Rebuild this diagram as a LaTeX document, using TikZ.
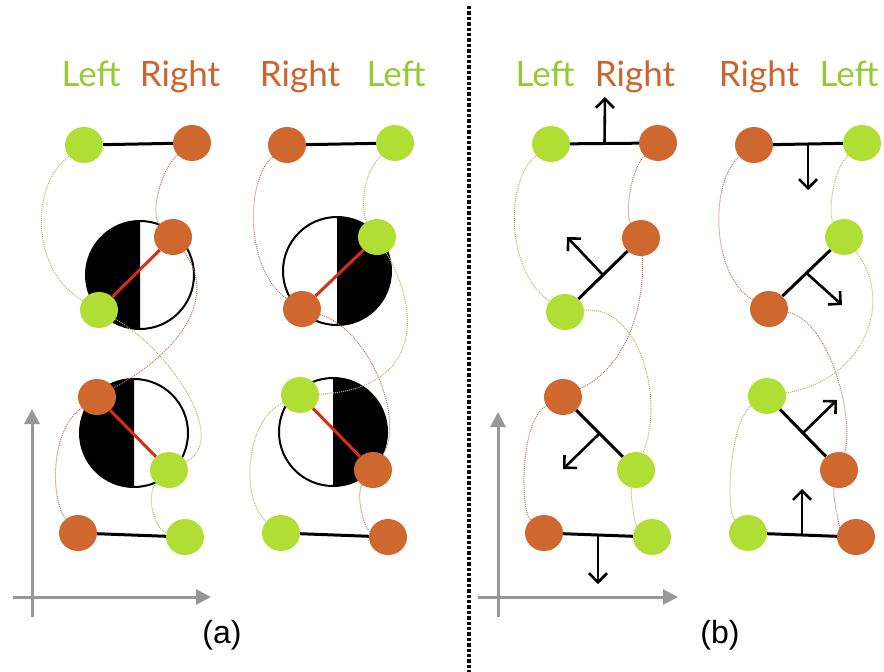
\documentclass[tikz,border=0pt]{standalone}
\usepackage{fontspec}
\newfontfamily\labelfont{Lato}
\newfontfamily\panelfont{Liberation Sans}
\usetikzlibrary{calc,shapes.geometric,arrows.meta}

\definecolor{beadgreen}{RGB}{176,222,52}
\definecolor{beadorange}{RGB}{206,104,46}
\definecolor{textgreen}{RGB}{148,202,50}
\definecolor{textorange}{RGB}{204,100,45}
\definecolor{strandgreen}{RGB}{165,190,95}
\definecolor{strandorange}{RGB}{185,120,95}
\definecolor{bondred}{RGB}{214,44,24}
\definecolor{axisgray}{RGB}{152,152,152}

\tikzset{
	greenbead/.style={ellipse, fill=beadgreen, minimum width=38pt, minimum height=36pt, inner sep=0pt},
	orangebead/.style={ellipse, fill=beadorange, minimum width=38pt, minimum height=36pt, inner sep=0pt},
	greenstrand/.style={strandgreen, line width=1pt, dash pattern=on 1pt off 1pt},
	orangestrand/.style={strandorange, line width=1pt, dash pattern=on 1pt off 1pt},
	bond/.style={line width=3pt},
	redbond/.style={bondred, line width=3pt},
	normal/.style={line width=2.6pt, -{Straight Barb[length=9pt,width=18pt]}},
	axis/.style={axisgray, line width=3pt, -{Triangle[length=15pt,width=15pt]}},
	leftlabel/.style={textgreen, anchor=base, font=\labelfont\fontsize{35}{38}\selectfont},
	rightlabel/.style={textorange, anchor=base, font=\labelfont\fontsize{35}{38}\selectfont},
	panellabel/.style={anchor=base, font=\panelfont\fontsize{32}{35}\selectfont}
}

% disc with one half filled black: centre, start:end angle of the black half
\def\halfdisc(#1)(#2:#3){%
	\fill[black] (#1) ++(#2:54) arc[start angle=#2, end angle=#3, radius=54] -- cycle;
	\draw[line width=2pt] (#1) circle[radius=54];}

\begin{document}
\begin{tikzpicture}[x=1pt, y=-1pt]
			%%%%% START %%%%%
			\useasboundingbox (0,0) rectangle (884,672);
			
			% labels
			\node[leftlabel] (a1left) at (91,86) {Left};
			\node[rightlabel] (a1right) at (180,86) {Right};
			\node[rightlabel] (a2right) at (300,86) {Right};
			\node[leftlabel] (a2left) at (396,86) {Left};
			\node[leftlabel] (b1left) at (545,86) {Left};
			\node[rightlabel] (b1right) at (635,86) {Right};
			\node[rightlabel] (b2right) at (759,86) {Right};
			\node[leftlabel] (b2left) at (849,86) {Left};
			
			\node[panellabel] (alabel) at (222,643) {(a)};
			\node[panellabel] (blabel) at (720,643) {(b)};
			
			% separator
			\draw[line width=3.4pt, dash pattern=on 3.4pt off 2pt] (469,6) -- (469,672);
			
			% axes
			\draw[axis] (32,617) -- (32,409);
			\draw[axis] (13,597) -- (211,597);
			\draw[axis] (498,617) -- (498,412);
			\draw[axis] (478,597) -- (678,597);
			
			% discs
			\halfdisc(140,275)(270:90)
			\halfdisc(134,433)(270:90)
			\halfdisc(337,271)(-90:90)
			\halfdisc(333,432)(-90:90)
			
			% beads
			\node[greenbead] (a1g1) at (84,145) {};
			\node[orangebead] (a1o1) at (192,143) {};
			\node[orangebead] (a1o2) at (173,237) {};
			\node[greenbead] (a1g2) at (99,310) {};
			\node[orangebead] (a1o3) at (97,397) {};
			\node[greenbead] (a1g3) at (169,470) {};
			\node[orangebead] (a1o4) at (78,533) {};
			\node[greenbead] (a1g4) at (185,537) {};
			
			\node[orangebead] (a2o1) at (287,145) {};
			\node[greenbead] (a2g1) at (395,143) {};
			\node[greenbead] (a2g2) at (377,237) {};
			\node[orangebead] (a2o2) at (302,309) {};
			\node[greenbead] (a2g3) at (300,395) {};
			\node[orangebead] (a2o3) at (373,470) {};
			\node[greenbead] (a2g4) at (281,533) {};
			\node[orangebead] (a2o4) at (388,537) {};
			
			\node[greenbead] (b1g1) at (551,144) {};
			\node[orangebead] (b1o1) at (658,143) {};
			\node[orangebead] (b1o2) at (641,238) {};
			\node[greenbead] (b1g2) at (565,312) {};
			\node[orangebead] (b1o3) at (563,397) {};
			\node[greenbead] (b1g3) at (636,470) {};
			\node[orangebead] (b1o4) at (544,533) {};
			\node[greenbead] (b1g4) at (652,537) {};
			
			\node[orangebead] (b2o1) at (754,145) {};
			\node[greenbead] (b2g1) at (862,143) {};
			\node[greenbead] (b2g2) at (844,237) {};
			\node[orangebead] (b2o2) at (769,309) {};
			\node[greenbead] (b2g3) at (767,396) {};
			\node[orangebead] (b2o3) at (839,470) {};
			\node[greenbead] (b2g4) at (748,533) {};
			\node[orangebead] (b2o4) at (856,537) {};
			
			% strands
			\draw[greenstrand] (a1g1) .. controls (30,185) and (30,270) .. (a1g2);
			\draw[greenstrand] (a1g2) .. controls (170,350) and (230,440) .. (a1g3);
			\draw[greenstrand] (a1g3) .. controls (145,495) and (155,530) .. (a1g4);
			\draw[orangestrand] (a1o1) .. controls (160,170) and (150,215) .. (a1o2);
			\draw[orangestrand] (a1o2) .. controls (220,300) and (175,355) .. (a1o3);
			\draw[orangestrand] (a1o3) .. controls (50,430) and (50,500) .. (a1o4);
			
			\draw[orangestrand] (a2o1) .. controls (245,180) and (245,270) .. (a2o2);
			\draw[orangestrand] (a2o2) .. controls (370,330) and (405,420) .. (a2o3);
			\draw[orangestrand] (a2o3) .. controls (355,495) and (365,530) .. (a2o4);
			\draw[greenstrand] (a2g1) .. controls (360,175) and (362,215) .. (a2g2);
			\draw[greenstrand] (a2g2) .. controls (425,320) and (415,390) .. (a2g3);
			\draw[greenstrand] (a2g3) .. controls (245,420) and (240,500) .. (a2g4);
			
			\draw[greenstrand] (b1g1) .. controls (505,180) and (505,270) .. (b1g2);
			\draw[greenstrand] (b1g2) .. controls (640,305) and (665,400) .. (b1g3);
			\draw[greenstrand] (b1g3) .. controls (630,495) and (635,525) .. (b1g4);
			\draw[orangestrand] (b1o1) .. controls (630,170) and (625,215) .. (b1o2);
			\draw[orangestrand] (b1o2) .. controls (645,300) and (630,365) .. (b1o3);
			\draw[orangestrand] (b1o3) .. controls (520,420) and (520,510) .. (b1o4);
			
			\draw[orangestrand] (b2o1) .. controls (710,180) and (710,275) .. (b2o2);
			\draw[orangestrand] (b2o2) .. controls (830,320) and (855,420) .. (b2o3);
			\draw[orangestrand] (b2o3) .. controls (832,495) and (840,528) .. (b2o4);
			\draw[greenstrand] (b2g1) .. controls (832,170) and (828,215) .. (b2g2);
			\draw[greenstrand] (b2g2) .. controls (895,300) and (865,380) .. (b2g3);
			\draw[greenstrand] (b2g3) .. controls (730,420) and (725,510) .. (b2g4);
			
			% bonds
			\draw[bond] (a1g1) -- (a1o1);
			\draw[redbond] (a1g2) -- (a1o2);
			\draw[redbond] (a1o3) -- (a1g3);
			\draw[bond] (a1o4) -- (a1g4);
			
			\draw[bond] (a2o1) -- (a2g1);
			\draw[redbond] (a2o2) -- (a2g2);
			\draw[redbond] (a2g3) -- (a2o3);
			\draw[bond] (a2g4) -- (a2o4);
			
			\draw[bond] (b1g1) -- (b1o1);
			\draw[bond] (b1g2) -- (b1o2);
			\draw[bond] (b1o3) -- (b1g3);
			\draw[bond] (b1o4) -- (b1g4);
			
			\draw[bond] (b2o1) -- (b2g1);
			\draw[bond] (b2o2) -- (b2g2);
			\draw[bond] (b2g3) -- (b2o3);
			\draw[bond] (b2g4) -- (b2o4);
			
			% normals
			\coordinate (b1n1) at (605,97);
			\coordinate (b1n2) at (567,237);
			\coordinate (b1n3) at (563,469);
			\coordinate (b1n4) at (598,584);
			\coordinate (b2n1) at (808,190);
			\coordinate (b2n2) at (842,305);
			\coordinate (b2n3) at (837,400);
			\coordinate (b2n4) at (802,489);
			
			\draw[normal] ($(b1g1)!0.5!(b1o1)$) -- (b1n1);
			\draw[normal] ($(b1g2)!0.5!(b1o2)$) -- (b1n2);
			\draw[normal] ($(b1o3)!0.5!(b1g3)$) -- (b1n3);
			\draw[normal] ($(b1o4)!0.5!(b1g4)$) -- (b1n4);
			\draw[normal] ($(b2o1)!0.5!(b2g1)$) -- (b2n1);
			\draw[normal] ($(b2o2)!0.5!(b2g2)$) -- (b2n2);
			\draw[normal] ($(b2g3)!0.5!(b2o3)$) -- (b2n3);
			\draw[normal] ($(b2g4)!0.5!(b2o4)$) -- (b2n4);
			
			%%%%% END %%%%%
\end{tikzpicture}
\end{document}
